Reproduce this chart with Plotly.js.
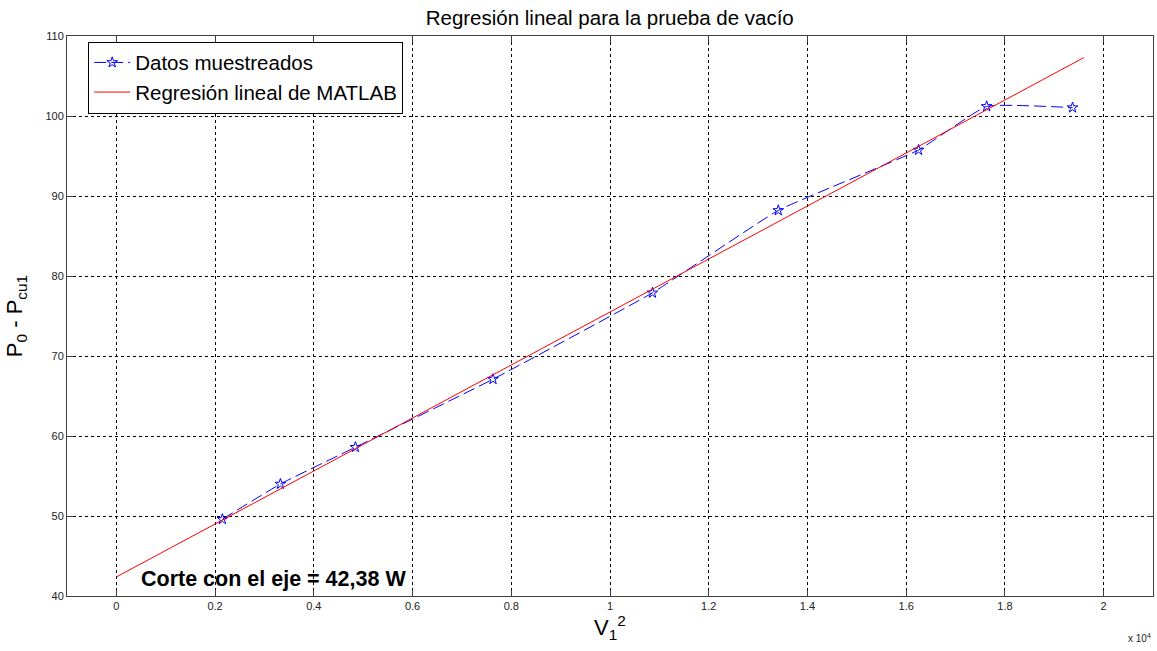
<!DOCTYPE html>
<html>
<head>
<meta charset="utf-8">
<script src="https://cdn.plot.ly/plotly-3.0.1.min.js"></script>
<style>html,body{margin:0;padding:0;background:#fff;}#chart{width:1157px;height:651px;}</style>
</head>
<body>
<div id="chart"></div>
<script>
// Sampled data: V1^2 and P0 - Pcu1
const vSquared = [2148, 3323, 4843, 7630, 10860, 13410, 16250, 17630, 19370];
const powerDiff = [49.6, 54.0, 58.6, 67.1, 77.9, 88.2, 95.75, 101.2, 101.05];
// MATLAB linear regression line endpoints
const regX = [0, 19600];
const regY = [42.38, 107.3];
// Axis ticks
const xTickVals = [0, 2000, 4000, 6000, 8000, 10000, 12000, 14000, 16000, 18000, 20000];
const xTickText = ['0', '0.2', '0.4', '0.6', '0.8', '1', '1.2', '1.4', '1.6', '1.8', '2'];
const yTickVals = [40, 50, 60, 70, 80, 90, 100, 110];

const traces = [
  {
    x: vSquared, y: powerDiff, type: 'scatter', mode: 'lines+markers',
    name: 'Datos muestreados',
    line: {color: '#0000ff', width: 1, dash: '12px,5px', shape: 'spline', smoothing: 0.35},
    marker: {symbol: 'star-open', size: 8, color: '#0000ff', line: {width: 1, color: '#0000ff'}}
  },
  {
    x: regX, y: regY, type: 'scatter', mode: 'lines',
    name: 'Regresión lineal de MATLAB',
    line: {color: '#ff0000', width: 1}
  }
];

const axisCommon = {
  showline: true, mirror: 'ticks', linecolor: '#404040', linewidth: 1,
  ticks: 'inside', ticklen: 6, tickcolor: '#404040',
  showgrid: true, gridcolor: '#000000', griddash: 'dot', gridwidth: 1,
  zeroline: false,
  tickfont: {family: 'Liberation Sans, Arial, sans-serif', size: 11, color: '#222'}
};

const layout = {
  width: 1157, height: 651,
  margin: {l: 67, r: 4, t: 36, b: 55},
  paper_bgcolor: '#ffffff', plot_bgcolor: '#ffffff',
  font: {family: 'Liberation Sans, Arial, sans-serif', color: '#000'},
  title: {text: 'Regresión lineal para la prueba de vacío', x: 0.527, xanchor: 'center', y: 0.972, yanchor: 'middle',
          font: {size: 20.5, color: '#000'}},
  xaxis: Object.assign({}, axisCommon, {
    range: [-1000, 21000], tickvals: xTickVals, ticktext: xTickText,
    title: {text: 'V<sub>1</sub><sup>2</sup>', font: {size: 22}, standoff: 6}
  }),
  yaxis: Object.assign({}, axisCommon, {
    range: [40, 110], tickvals: yTickVals,
    title: {text: 'P<sub>0</sub> - P<sub>cu1</sub>', font: {size: 22}, standoff: 16}
  }),
  showlegend: true,
  legend: {
    x: 0.0195, y: 0.99, xanchor: 'left', yanchor: 'top',
    bgcolor: '#ffffff', bordercolor: '#000', borderwidth: 1,
    font: {size: 20.5, color: '#000'}, tracegroupgap: 0, itemwidth: 36
  },
  annotations: [
    {x: 460, y: 42.1, xref: 'x', yref: 'y', xanchor: 'left', yanchor: 'middle', showarrow: false,
     text: '<b>Corte con el eje = 42,38 W</b>', font: {size: 21.5, color: '#000'}},
    {x: 1, y: -0.06, xref: 'paper', yref: 'paper', xanchor: 'right', yanchor: 'top', showarrow: false,
     text: 'x 10<sup>4</sup>', font: {size: 10, color: '#222'}}
  ]
};

Plotly.newPlot('chart', traces, layout, {displayModeBar: false, staticPlot: true});
</script>
</body>
</html>
